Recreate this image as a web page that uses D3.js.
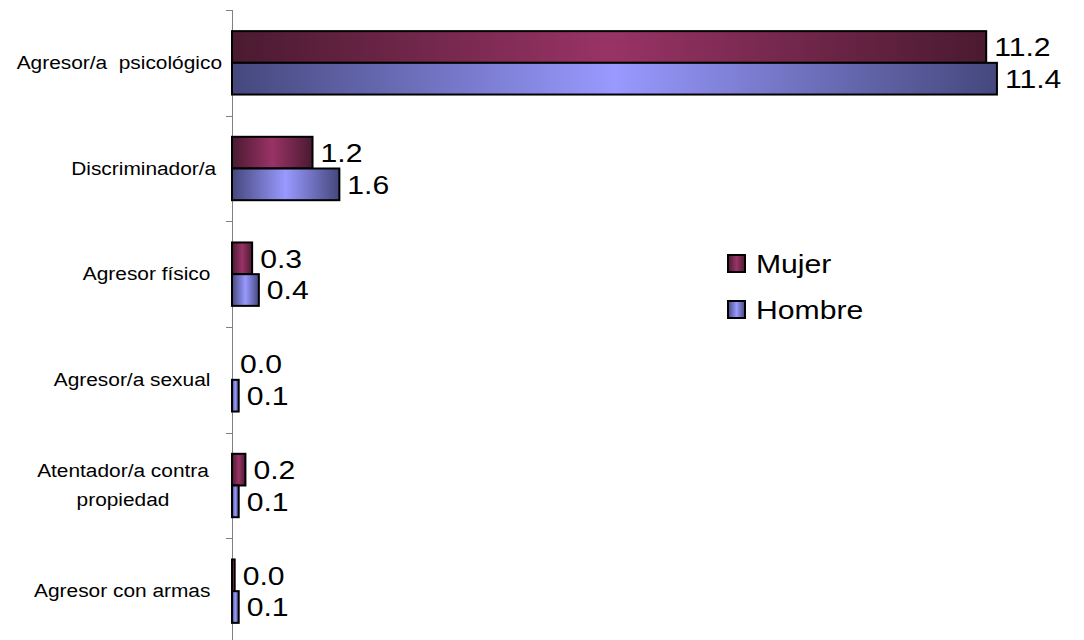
<!DOCTYPE html>
<html><head><meta charset="utf-8">
<script src="https://cdn.jsdelivr.net/npm/d3@7"></script>
<style>body{margin:0;background:#fff}svg{display:block}text{font-family:"Liberation Sans",Arial,sans-serif;fill:#000}</style>
</head><body><svg id="c" width="1084" height="640"></svg>
<script>
const categories = ["Agresor/a  psicológico", "Discriminador/a ", "Agresor físico  ", "Agresor/a sexual  ", "Atentador/a contra\npropiedad", "Agresor con armas  "];
const seriesNames = ["Mujer", "Hombre"];
const mujer = [11.24, 1.2, 0.3, 0.0, 0.2, 0.04];
const hombre = [11.4, 1.6, 0.4, 0.1, 0.1, 0.1];
const seriesEdge = ["#4a1a30", "#45487c"];
const seriesMid = ["#993366", "#9999ff"];

const svg = d3.select("#c");
const stretch = 1.16;
const axisX = 232;
const x = d3.scaleLinear().domain([0, 12]).range([axisX, axisX + 12 * 67.1]);
const y = d3.scaleBand().domain(categories).range([10, 644]).paddingInner(0.4).paddingOuter(0.2);
const ys = d3.scaleBand().domain(seriesNames).range([0, y.bandwidth()]);
const values = [mujer, hombre];

// gradients
const defs = svg.append("defs");
seriesNames.forEach((s, i) => {
  const g = defs.append("linearGradient").attr("id", "g" + i).attr("x1", "0%").attr("x2", "100%").attr("y1", "0%").attr("y2", "0%");
  g.append("stop").attr("offset", "0%").attr("stop-color", seriesEdge[i]);
  g.append("stop").attr("offset", "50%").attr("stop-color", seriesMid[i]);
  g.append("stop").attr("offset", "100%").attr("stop-color", seriesEdge[i]);
});

// axis
const step = y.step();
svg.append("line").attr("x1", axisX + 0.5).attr("x2", axisX + 0.5).attr("y1", 10).attr("y2", 644).attr("stroke", "#808080").attr("stroke-width", 1);
const tickYs = categories.map(c => y(c) - step * 0.2).concat([y(categories[categories.length - 1]) + y.bandwidth() + step * 0.2]);
svg.selectAll(".tick").data(tickYs).join("line")
  .attr("x1", axisX - 6).attr("x2", axisX).attr("y1", d => Math.round(d) + 0.5).attr("y2", d => Math.round(d) + 0.5)
  .attr("stroke", "#808080").attr("stroke-width", 1);

// bars
seriesNames.forEach((s, i) => {
  const vals = values[i];
  svg.selectAll(".bar" + i).data(categories).join("rect")
    .attr("x", axisX)
    .attr("y", c => y(c) + ys(s))
    .attr("width", (c, j) => x(vals[j]) - axisX)
    .attr("height", ys.bandwidth())
    .attr("fill", "url(#g" + i + ")")
    .attr("stroke", (c, j) => vals[j] > 0 ? "#000" : "none")
    .attr("stroke-width", 2);
  categories.forEach((c, j) => {
    const cy = y(c) + ys(s) + ys.bandwidth() / 2;
    svg.append("g").attr("transform", `translate(${x(vals[j]) + 8},${cy + 9.3}) scale(${stretch},1)`)
      .append("text").attr("font-size", 26).text(vals[j].toFixed(1));
  });
});

// category labels
categories.forEach(c => {
  const lines = c.split("\n");
  const cy = y(c) + y.bandwidth() / 2;
  const lh = 29;
  lines.forEach((ln, k) => {
    const ly = cy + (k - (lines.length - 1) / 2) * lh + 6.3;
    const multi = lines.length > 1;
    svg.append("g").attr("transform", `translate(${multi ? 123 : 222},${ly}) scale(${stretch},1)`)
      .append("text").attr("font-size", 18).attr("xml:space", "preserve").style("white-space", "pre")
      .attr("text-anchor", multi ? "middle" : "end").text(ln);
  });
});

// legend
const legY = [264, 310];
seriesNames.forEach((s, i) => {
  svg.append("rect").attr("x", 728).attr("y", legY[i] - 9).attr("width", 17).attr("height", 17)
    .attr("fill", "url(#g" + i + ")").attr("stroke", "#000").attr("stroke-width", 2);
  svg.append("g").attr("transform", `translate(756,${legY[i] + 9.3}) scale(${stretch},1)`)
    .append("text").attr("font-size", 26).text(s);
});
</script></body></html>
